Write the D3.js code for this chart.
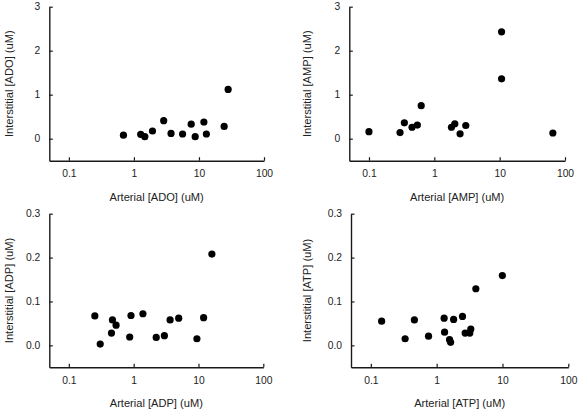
<!DOCTYPE html>
<html><head><meta charset="utf-8">
<script src="https://cdn.jsdelivr.net/npm/d3@7"></script>
<style>body{margin:0;background:#fff}svg{display:block}text{font-family:"Liberation Sans",Arial,sans-serif;fill:#222}</style>
</head><body><svg id="c" width="585" height="414"></svg>
<script>
// Data
const adoX = [0.69, 1.27, 1.47, 1.93, 2.87, 3.72, 5.6, 7.6, 8.75, 11.9, 13.0, 24.4, 28.1];
const adoY = [0.08, 0.10, 0.045, 0.175, 0.41, 0.12, 0.107, 0.33, 0.045, 0.38, 0.107, 0.28, 1.12];
const ampX = [0.1, 0.299, 0.348, 0.456, 0.55, 0.63, 1.83, 2.06, 2.48, 3.03, 10.7, 10.7, 65.2];
const ampY = [0.16, 0.14, 0.36, 0.26, 0.31, 0.75, 0.26, 0.34, 0.11, 0.30, 2.43, 1.36, 0.13];
const adpX = [0.252, 0.305, 0.455, 0.471, 0.536, 0.869, 0.91, 1.39, 2.23, 2.98, 3.65, 4.95, 9.46, 12.0, 16.1];
const adpY = [0.067, 0.003, 0.028, 0.058, 0.046, 0.019, 0.068, 0.072, 0.018, 0.022, 0.058, 0.062, 0.015, 0.063, 0.208];
const atpX = [0.146, 0.332, 0.459, 0.753, 1.30, 1.32, 1.57, 1.63, 1.81, 2.47, 2.71, 3.19, 3.30, 3.94, 9.96];
const atpY = [0.055, 0.015, 0.058, 0.021, 0.062, 0.030, 0.013, 0.007, 0.059, 0.066, 0.028, 0.028, 0.037, 0.129, 0.159];

const xDomain = [0.05, 100];
const xTicks = [0.1, 1, 10, 100];
const xTickLabels = ["0.1", "1", "10", "100"];
const yTicksTop = [0, 1, 2, 3];
const yTickLabelsTop = ["0", "1", "2", "3"];
const yTicksBottom = [0, 0.1, 0.2, 0.3];
const yTickLabelsBottom = ["0.0", "0.1", "0.2", "0.3"];

const panels = [
  {name: "ADO", xs: adoX, ys: adoY, yDom: [-0.5, 3], yt: yTicksTop, ytl: yTickLabelsTop, l: 49.3, r: 264, t: 6.7, b: 160.7, yTitleX: 9.5, xTitleY: 197},
  {name: "AMP", xs: ampX, ys: ampY, yDom: [-0.5, 3], yt: yTicksTop, ytl: yTickLabelsTop, l: 349.3, r: 565, t: 6.7, b: 160.7, yTitleX: 306.7, xTitleY: 197},
  {name: "ADP", xs: adpX, ys: adpY, yDom: [-0.05, 0.3], yt: yTicksBottom, ytl: yTickLabelsBottom, l: 49.3, r: 263.3, t: 213.7, b: 367.3, yTitleX: 9.5, xTitleY: 403.5},
  {name: "ATP", xs: atpX, ys: atpY, yDom: [-0.05, 0.3], yt: yTicksBottom, ytl: yTickLabelsBottom, l: 351, r: 568.3, t: 213.7, b: 367.3, yTitleX: 306.7, xTitleY: 403.5}
];

const svg = d3.select("#c");
const ink = "#1a1a1a";

panels.forEach(p => {
  const x = d3.scaleLog().domain(xDomain).range([p.l, p.r]);
  const y = d3.scaleLinear().domain(p.yDom).range([p.b, p.t]);
  const g = svg.append("g");

  // x axis (ticks inward)
  const xa = g.append("g").attr("transform", `translate(0,${p.b})`)
    .call(d3.axisBottom(x).tickValues(xTicks).tickSizeInner(-3.5).tickSizeOuter(0)
      .tickPadding(9).tickFormat((d, i) => xTickLabels[i]));
  xa.select(".domain").attr("stroke", ink).attr("stroke-width", 1.4);
  xa.selectAll(".tick line").attr("stroke", ink).attr("stroke-width", 1.2);
  xa.selectAll(".tick text").attr("font-size", 10.3).attr("fill", "#222")
    .attr("font-family", "Liberation Sans, Arial, sans-serif");

  // y axis (ticks inward)
  const ya = g.append("g").attr("transform", `translate(${p.l},0)`)
    .call(d3.axisLeft(y).tickValues(p.yt).tickSizeInner(-3.5).tickSizeOuter(0)
      .tickPadding(9).tickFormat((d, i) => p.ytl[i]));
  ya.select(".domain").attr("stroke", ink).attr("stroke-width", 1.4);
  ya.selectAll(".tick line").attr("stroke", ink).attr("stroke-width", 1.2);
  ya.selectAll(".tick text").attr("font-size", 10.3).attr("fill", "#222")
    .attr("font-family", "Liberation Sans, Arial, sans-serif");

  // titles
  g.append("text").attr("x", (p.l + p.r) / 2).attr("y", p.xTitleY).attr("dy", "0.35em")
    .attr("text-anchor", "middle").attr("font-size", 11.1)
    .text(`Arterial [${p.name}] (uM)`);
  g.append("text").attr("transform", `translate(${p.yTitleX},${(p.t + p.b) / 2}) rotate(-90)`)
    .attr("dy", "0.35em").attr("text-anchor", "middle").attr("font-size", 11.1)
    .text(`Interstitial [${p.name}] (uM)`);

  // points
  g.append("g").selectAll("circle").data(p.xs.map((v, i) => [v, p.ys[i]])).join("circle")
    .attr("cx", d => x(d[0])).attr("cy", d => y(d[1])).attr("r", 3.6).attr("fill", "#000");
});
</script></body></html>
